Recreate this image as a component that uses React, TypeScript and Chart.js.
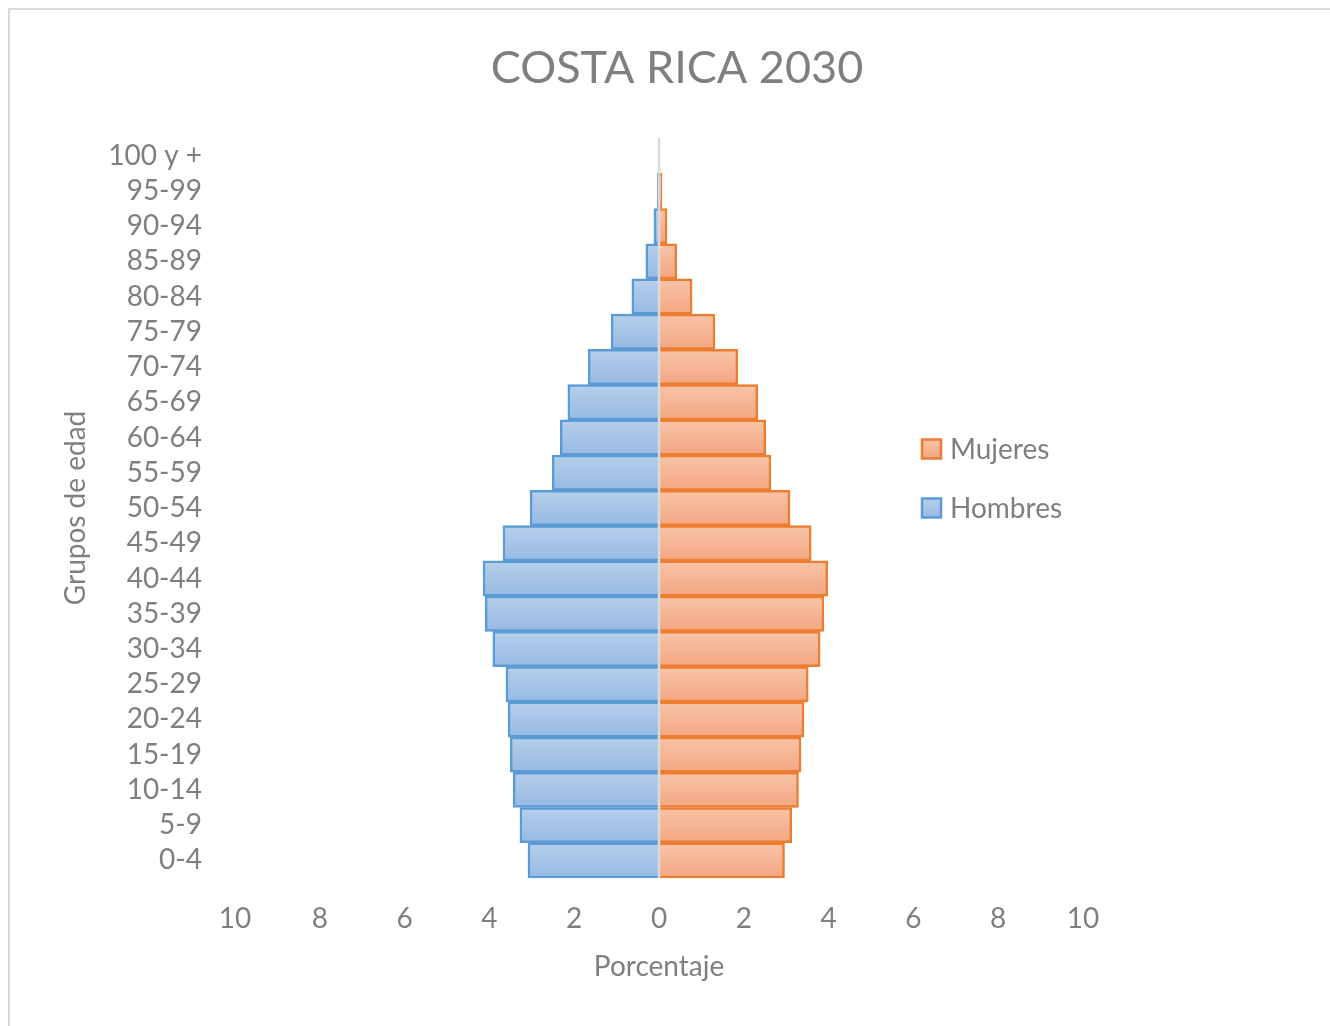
import React, { useEffect, useRef } from 'react';
import { Chart, registerables } from 'chart.js';

Chart.register(...registerables);

// ---- data ----
const ageGroups = [
  '0-4', '5-9', '10-14', '15-19', '20-24', '25-29', '30-34', '35-39', '40-44', '45-49',
  '50-54', '55-59', '60-64', '65-69', '70-74', '75-79', '80-84', '85-89', '90-94', '95-99', '100 y +',
];
const hombres = [
  3.09, 3.28, 3.44, 3.51, 3.56, 3.61, 3.92, 4.1, 4.15, 3.68,
  3.04, 2.52, 2.33, 2.15, 1.67, 1.13, 0.64, 0.31, 0.12, 0.04, 0.01,
];
const mujeres = [
  2.96, 3.13, 3.29, 3.35, 3.42, 3.52, 3.8, 3.89, 3.98, 3.59,
  3.09, 2.64, 2.52, 2.33, 1.86, 1.32, 0.78, 0.42, 0.19, 0.07, 0.01,
];
const xTickValues = [-10, -8, -6, -4, -2, 0, 2, 4, 6, 8, 10];

const TITLE = 'COSTA RICA 2030';
const X_TITLE = 'Porcentaje';
const Y_TITLE = 'Grupos de edad';
const SERIES_M = 'Hombres';
const SERIES_F = 'Mujeres';

// ---- styles ----
const FONT = "Lato, 'Open Sans', sans-serif";
const TEXT_COLOR = '#7f7f7f';
const BLUE = { border: '#5b9bd5', top: '#b6cfeb', bottom: '#97b9e3' };
const ORANGE = { border: '#ed7d31', top: '#f8c4a8', bottom: '#f3a682' };

function barGradient(ctx: any, pal: any) {
  const chart = ctx.chart;
  const area = chart.chartArea;
  const yScale = chart.scales && chart.scales.y;
  if (!area || !yScale || ctx.dataIndex == null) return pal.top;
  const c = yScale.getPixelForValue(ctx.dataIndex);
  const half = area.height / chart.data.labels.length / 2;
  const g = chart.ctx.createLinearGradient(0, c - half, 0, c + half);
  g.addColorStop(0, pal.top);
  g.addColorStop(1, pal.bottom);
  return g;
}

const titlePlugin = {
  id: 'pyramidTitle',
  afterDraw(chart: any) {
    const { ctx, width } = chart;
    ctx.save();
    ctx.font = `45px ${FONT}`;
    ctx.fillStyle = TEXT_COLOR;
    ctx.textAlign = 'center';
    ctx.textBaseline = 'middle';
    ctx.fillText(TITLE, width / 2 + 7, 58);
    ctx.restore();
  },
};

const zeroLinePlugin = {
  id: 'zeroLine',
  afterDatasetsDraw(chart: any) {
    const { ctx, chartArea, scales } = chart;
    const x = scales.x.getPixelForValue(0);
    ctx.save();
    ctx.strokeStyle = '#d9d9d9';
    ctx.lineWidth = 2.5;
    ctx.beginPath();
    ctx.moveTo(x, chartArea.top);
    ctx.lineTo(x, chartArea.bottom);
    ctx.stroke();
    ctx.restore();
  },
};

const legendPlugin = {
  id: 'sideLegend',
  afterDraw(chart: any) {
    const { ctx } = chart;
    const items = [...chart.data.datasets].reverse();
    ctx.save();
    items.forEach((ds: any, i: number) => {
      const cy = 439 + i * 59;
      const size = 19;
      const bx = 912;
      const pal = ds.label === SERIES_M ? BLUE : ORANGE;
      const g = ctx.createLinearGradient(0, cy - size / 2, 0, cy + size / 2);
      g.addColorStop(0, pal.top);
      g.addColorStop(1, pal.bottom);
      ctx.fillStyle = g;
      ctx.fillRect(bx, cy - size / 2, size, size);
      ctx.strokeStyle = pal.border;
      ctx.lineWidth = 2.5;
      ctx.strokeRect(bx, cy - size / 2, size, size);
      ctx.font = `28px ${FONT}`;
      ctx.fillStyle = TEXT_COLOR;
      ctx.textAlign = 'left';
      ctx.textBaseline = 'middle';
      ctx.fillText(ds.label, 940, cy + 1);
    });
    ctx.restore();
  },
};

export default function App() {
  const canvasRef = useRef<HTMLCanvasElement | null>(null);

  useEffect(() => {
    if (!canvasRef.current) return;
    Chart.defaults.font.family = FONT;
    const chart = new Chart(canvasRef.current, {
      type: 'bar',
      data: {
        labels: ageGroups,
        datasets: [
          {
            label: SERIES_M,
            data: hombres.map((v) => -v),
            backgroundColor: (ctx: any) => barGradient(ctx, BLUE),
            borderColor: BLUE.border,
            borderWidth: 2.5,
            categoryPercentage: 1,
            barPercentage: 1,
          },
          {
            label: SERIES_F,
            data: mujeres,
            backgroundColor: (ctx: any) => barGradient(ctx, ORANGE),
            borderColor: ORANGE.border,
            borderWidth: 2.5,
            categoryPercentage: 1,
            barPercentage: 1,
          },
        ],
      },
      options: {
        indexAxis: 'y',
        animation: false,
        responsive: false,
        layout: { padding: { top: 128, right: 247, left: 0, bottom: 0 } },
        plugins: {
          legend: { display: false },
          title: { display: false },
          tooltip: { enabled: false },
        },
        scales: {
          x: {
            type: 'linear',
            min: -10,
            max: 10,
            stacked: true,
            grid: { display: false, drawTicks: false },
            border: { display: false },
            afterBuildTicks: (scale: any) => {
              scale.ticks = xTickValues.map((v) => ({ value: v }));
            },
            ticks: {
              color: TEXT_COLOR,
              font: { size: 28 },
              padding: 24,
              maxRotation: 0,
              callback: (v: any) => String(Math.abs(Number(v))),
            },
            title: {
              display: true,
              text: X_TITLE,
              color: TEXT_COLOR,
              font: { size: 28 },
              padding: { top: 0, bottom: 42 },
            },
            afterFit: (scale: any) => {
              scale.height = 148;
              scale.paddingLeft = 0;
              scale.paddingRight = 0;
            },
          },
          y: {
            type: 'category',
            reverse: true,
            stacked: true,
            grid: { display: false, drawTicks: false },
            border: { display: false },
            ticks: {
              color: TEXT_COLOR,
              font: { size: 28 },
              padding: 33,
              autoSkip: false,
            },
            title: {
              display: true,
              text: Y_TITLE,
              color: TEXT_COLOR,
              font: { size: 28 },
              padding: { top: 49, bottom: 0 },
            },
            afterFit: (scale: any) => {
              scale.width = 225;
              scale.paddingTop = 0;
              scale.paddingBottom = 0;
            },
          },
        },
      },
      plugins: [zeroLinePlugin, titlePlugin, legendPlugin],
    } as any);
    return () => chart.destroy();
  }, []);

  return (
    <div
      style={{
        position: 'fixed',
        left: 8,
        top: 8,
        width: 1344,
        height: 1040,
        border: '2px solid #d9d9d9',
        background: '#ffffff',
        boxSizing: 'border-box',
        overflow: 'hidden',
      }}
    >
      <canvas ref={canvasRef} width={1320} height={1016} style={{ display: 'block', width: 1320, height: 1016 }} />
    </div>
  );
}
